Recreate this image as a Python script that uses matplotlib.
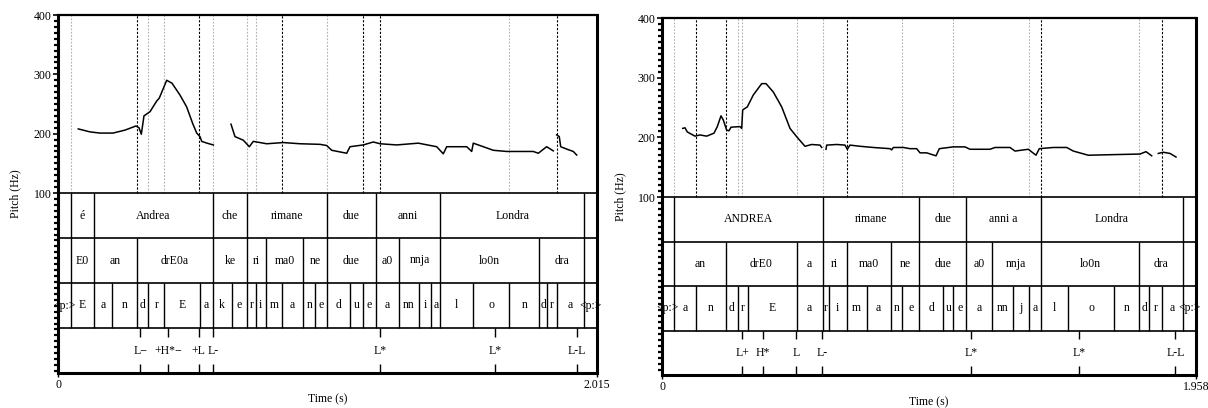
import matplotlib
matplotlib.use("Agg")
import matplotlib.pyplot as plt
from matplotlib.ticker import MultipleLocator

NaN = float("nan")

# ---------------- left panel data ----------------
L_TMAX = 2.015
L_PITCH_T = [0.0759, 0.1196, 0.157, 0.2056, 0.2505, 0.2916, 0.3028, 0.3114, 0.3215, 0.3439,
             0.369, 0.3787, 0.4064, 0.4262, 0.4561, 0.4811, 0.5036, 0.5185, 0.5309, 0.5372,
             0.557, 0.5806, NaN,
             0.6467, 0.6617, 0.6927, 0.7152, 0.7301, 0.7802, 0.8423, 0.9047, 0.9795, 1.0045,
             1.0232, 1.0793, 1.0916, 1.1413, 1.1787, 1.2038, 1.2662, 1.347, 1.4157, 1.4404,
             1.4531, 1.5279, 1.5466, 1.5525, 1.6273, 1.6774, 1.7768, 1.7955, 1.8269, 1.8516, NaN,
             1.8643, 1.874, 1.8793, 1.9017, 1.9264, 1.9391]
L_PITCH_HZ = [208, 203, 201, 201, 206, 213, 210, 199, 230, 237,
              255, 260, 290, 285, 265, 245, 217, 201, 195, 187,
              184, 181, NaN,
              216, 195, 189, 178, 187, 183, 185, 183, 182, 180,
              172, 167, 178, 181, 186, 183, 181, 184, 178, 166,
              178, 178, 170, 184, 172, 170, 170, 167, 178, 171, NaN,
              198, 195, 178, 174, 170, 164]
L_WORD_BOUNDS = [0.0475, 0.1346, 0.5783, 0.7077, 1.0068, 1.187, 1.4292, 1.9675]
L_WORD_LABELS = ["", "é", "Andrea", "che", "rimane", "due", "anni", "Londra", ""]
L_SYL_BOUNDS = [0.0475, 0.1346, 0.2965, 0.5783, 0.7077, 0.7776, 0.917, 1.0068, 1.187,
                1.2737, 1.4292, 1.7993, 1.9675]
L_SYL_LABELS = ["", "E0", "an", "drE0a", "ke", "ri", "ma0", "ne", "due", "a0", "nnja",
                "lo0n", "dra", ""]
L_PHONE_BOUNDS = [0.0475, 0.1346, 0.2008, 0.2965, 0.3376, 0.3974, 0.5309, 0.5783, 0.6494,
                  0.7077, 0.7391, 0.7776, 0.8363, 0.917, 0.9619, 1.0068, 1.0916, 1.1413,
                  1.187, 1.2737, 1.3507, 1.3956, 1.4292, 1.5503, 1.6872, 1.7993, 1.8292,
                  1.8644, 1.9675]
L_PHONE_LABELS = ["<p:>", "E", "a", "n", "d", "r", "E", "a", "k", "e", "r", "i", "m", "a",
                  "n", "e", "d", "u", "e", "a", "nn", "i", "a", "l", "o", "n", "d", "r", "a",
                  "<p:>"]
L_TONE_T = [0.3077, 0.4112, 0.526, 0.5783, 1.2049, 1.6348, 1.9391]
L_TONE_LABELS = ["L−", "+H*−", "+L", "L-", "L*", "L*", "L-L"]
L_DARK_LINES = [0.2965, 0.526, 0.8363, 1.1413, 1.2049, 1.8644]
L_GRAY_LINES = [0.0475, 0.3376, 0.3974, 0.5783, 0.7077, 0.7391, 1.0068, 1.6872]

# ---------------- right panel data ----------------
R_TMAX = 1.958
R_PITCH_T = [0.0759, 0.0843, 0.0928, 0.121, 0.1393, 0.1639, 0.1907, 0.2028, 0.2163, 0.2248,
             0.2372, 0.2457, 0.253, 0.286, 0.2922, 0.2959, 0.3128, 0.3348, 0.3656, 0.3813,
             0.4081, 0.4389, 0.4693, 0.4939, 0.5243, 0.5489, 0.5793, 0.5856, NaN,
             0.6013, 0.6039, 0.6406, 0.671, 0.6794, 0.6893, 0.726, 0.7748, 0.836, 0.8422,
             0.8481, 0.8848, 0.9093, 0.9339, 0.946, 0.9706, 1.0047, 1.0168, 1.0681, 1.111,
             1.1293, 1.2027, 1.221, 1.276, 1.2943, 1.3431, 1.3713, 1.3834, 1.4347, 1.4839,
             1.5081, 1.5631, 1.6548, 1.7527, 1.7747, 1.7956, NaN,
             1.8198, 1.8381, 1.8627, 1.8847]
R_PITCH_HZ = [215, 216, 209, 202, 204, 202, 207, 218, 236, 229,
              212, 211, 217, 218, 215, 246, 251, 271, 290, 290,
              276, 251, 215, 201, 185, 188, 187, 183, NaN,
              180, 187, 188, 187, 180, 187, 185, 183, 181, 179,
              183, 183, 181, 181, 174, 174, 169, 181, 184, 184,
              180, 180, 183, 183, 177, 180, 170, 181, 183, 183,
              177, 170, 171, 172, 176, 169, NaN,
              173, 175, 173, 167]
R_WORD_BOUNDS = [0.044, 0.5885, 0.9434, 1.1158, 1.3886, 1.9092]
R_WORD_LABELS = ["", "ANDREA", "rimane", "due", "anni a", "Londra", ""]
R_SYL_BOUNDS = [0.044, 0.2347, 0.4939, 0.5885, 0.6772, 0.8386, 0.9434, 1.1158, 1.2089,
                1.3886, 1.7501, 1.9092]
R_SYL_LABELS = ["", "an", "drE0", "a", "ri", "ma0", "ne", "due", "a0", "nnja", "lo0n",
                "dra", ""]
R_PHONE_BOUNDS = [0.044, 0.1236, 0.2347, 0.2776, 0.3164, 0.4939, 0.5885, 0.6116, 0.6772,
                  0.7506, 0.8386, 0.8811, 0.9434, 1.0314, 1.0681, 1.1158, 1.2089, 1.2881,
                  1.3468, 1.3886, 1.4898, 1.6584, 1.7501, 1.7868, 1.8322, 1.9092]
R_PHONE_LABELS = ["<p:>", "a", "n", "d", "r", "E", "a", "r", "i", "m", "a", "n", "e", "d",
                  "u", "e", "a", "nn", "j", "a", "l", "o", "n", "d", "r", "a", "<p:>"]
R_TONE_T = [0.2944, 0.3714, 0.4914, 0.587, 1.1341, 1.5301, 1.8821]
R_TONE_LABELS = ["L+", "H*", "L", "L-", "L*", "L*", "L-L"]
R_DARK_LINES = [0.1236, 0.2347, 0.6772, 1.3886, 1.8322]
R_GRAY_LINES = [0.044, 0.2776, 0.2944, 0.4939, 0.5885, 0.8811, 1.0681, 1.3468, 1.7501]

plt.rcParams["font.family"] = ["Liberation Serif", "DejaVu Serif"]
plt.rcParams["font.size"] = 8.5

W, H = 1208, 408
fig = plt.figure(figsize=(W / 100, H / 100), dpi=100)


def draw_panel(rect_px, pitch_px, tmax, pt, phz, tiers, tones, dark, gray, ylab_dx, xlab_dy):
    x0, top, x1, bot = rect_px
    ax = fig.add_axes([x0 / W, (H - bot) / H, (x1 - x0) / W, (bot - top) / H])
    tier_px = (bot - top) - pitch_px
    ymin = 100 - 300 * tier_px / pitch_px
    th = (100 - ymin) / 4
    ax.set_xlim(0, tmax)
    ax.set_ylim(ymin, 400)

    # guide lines over the pitch area
    for t in gray:
        ax.vlines(t, 100, 400, colors="#b0b0b0", linestyles=(0, (1.5, 1.5)), linewidth=0.8)
    for t in dark:
        ax.vlines(t, 100, 400, colors="black", linestyles=(0, (2, 1.5)), linewidth=0.8)

    ax.plot(pt, phz, color="black", linewidth=1.1)

    # interval tiers
    for k, (bounds, labels) in enumerate(tiers):
        y_hi = 100 - k * th
        y_lo = y_hi - th
        ax.hlines(y_lo, 0, tmax, colors="black", linewidth=1.2)
        ax.vlines(bounds, y_lo, y_hi, colors="black", linewidth=1.0)
        edges = [0] + list(bounds) + [tmax]
        for a, b, lab in zip(edges[:-1], edges[1:], labels):
            ax.text((a + b) / 2, (y_lo + y_hi) / 2, lab, ha="center", va="center", zorder=2)
    ax.hlines(100, 0, tmax, colors="black", linewidth=1.2)

    # point tier
    tone_t, tone_lab = tones
    y_hi = 100 - 3 * th
    y_lo = ymin
    ax.vlines(tone_t, y_hi - 0.2 * th, y_hi, colors="black", linewidth=1.0)
    ax.vlines(tone_t, y_lo, y_lo + 0.2 * th, colors="black", linewidth=1.0)
    for t, lab in zip(tone_t, tone_lab):
        ax.text(t, (y_lo + y_hi) / 2, lab, ha="center", va="center", zorder=2)

    # axes styling
    for side in ["left", "right", "bottom"]:
        ax.spines[side].set_linewidth(2.2)
    ax.spines["top"].set_linewidth(1.6)
    ax.set_yticks([100, 200, 300, 400])
    ax.yaxis.set_minor_locator(MultipleLocator(10))
    ax.tick_params(axis="y", which="major", direction="out", length=3.5, width=1.2, pad=1)
    ax.tick_params(axis="y", which="minor", direction="out", length=3, width=1.6)
    ax.set_xticks([0, tmax])
    ax.set_xticklabels(["0", f"{tmax:.3f}"])
    ax.tick_params(axis="x", direction="out", length=3, width=1, pad=1.5)
    ax.set_ylabel("Pitch (Hz)")
    ax.yaxis.label.set_va("center")
    ax.yaxis.set_label_coords(-ylab_dx / (x1 - x0), 0.5)
    ax.set_xlabel("Time (s)")
    ax.xaxis.label.set_va("center")
    ax.xaxis.set_label_coords(0.5, -xlab_dy / (bot - top))
    return ax


draw_panel((58, 15, 597, 373), 178, L_TMAX, L_PITCH_T, L_PITCH_HZ,
           [(L_WORD_BOUNDS, L_WORD_LABELS), (L_SYL_BOUNDS, L_SYL_LABELS),
            (L_PHONE_BOUNDS, L_PHONE_LABELS)],
           (L_TONE_T, L_TONE_LABELS), L_DARK_LINES, L_GRAY_LINES, 43, 26)

draw_panel((662, 18, 1196, 375), 179, R_TMAX, R_PITCH_T, R_PITCH_HZ,
           [(R_WORD_BOUNDS, R_WORD_LABELS), (R_SYL_BOUNDS, R_SYL_LABELS),
            (R_PHONE_BOUNDS, R_PHONE_LABELS)],
           (R_TONE_T, R_TONE_LABELS), R_DARK_LINES, R_GRAY_LINES, 42, 27)

fig.savefig("out.png", dpi=100)
